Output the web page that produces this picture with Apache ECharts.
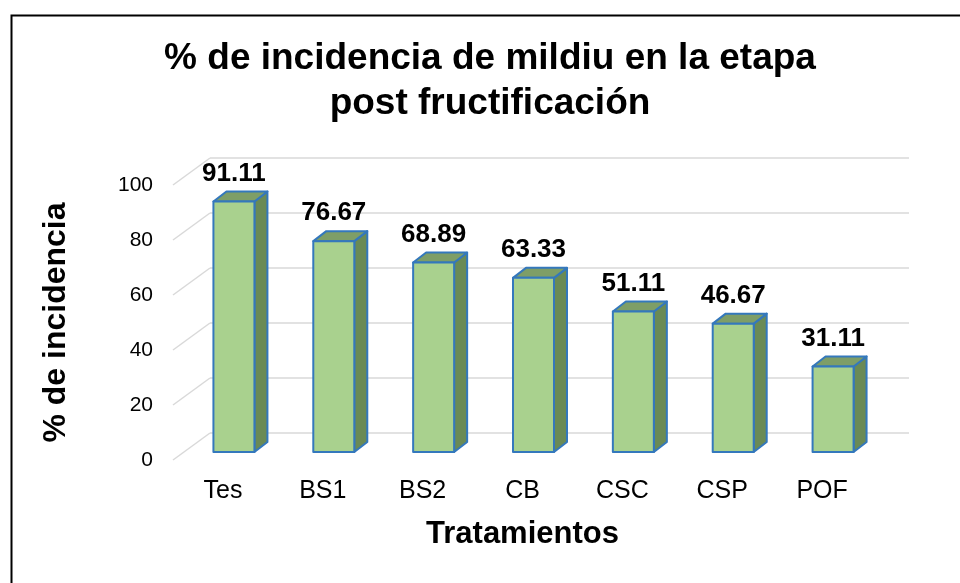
<!DOCTYPE html>
<html>
<head>
<meta charset="utf-8">
<script src="https://cdn.jsdelivr.net/npm/echarts@6/dist/echarts.min.js"></script>
<style>
html,body{margin:0;padding:0;background:#fff;}
#chart{width:960px;height:583px;}
</style>
</head>
<body>
<div id="chart"></div>
<script>
// ---- data ----
const categories = ['Tes', 'BS1', 'BS2', 'CB', 'CSC', 'CSP', 'POF'];
const incidence = [91.11, 76.67, 68.89, 63.33, 51.11, 46.67, 31.11];
const yTicks = [0, 20, 40, 60, 80, 100];
const titleText = '% de incidencia de mildiu en la etapa\npost fructificación';
const yName = '% de incidencia';
const xName = 'Tratamientos';

// ---- styling / 3D projection ----
const FONT = '"Liberation Sans", Arial, sans-serif';
const WALL_DX = 37, WALL_DY = -27;      // depth shift of back wall
const BAR_OX = 11, BAR_OY = -8;         // front face of bar within depth
const BAR_DX = 13, BAR_DY = -10;        // bar depth
const BAR_W = 41;
const EDGE = '#3478BC';
const FRONT = '#A9D18E', TOP = '#7E9E67', SIDE = '#6A8A55';

const chart = echarts.init(document.getElementById('chart'));

function barItem(params, api) {
  const i = api.value(0), v = api.value(1);
  const p0 = api.coord([i, 0]);
  const p1 = api.coord([i, v]);
  const cx = p0[0] + BAR_OX;
  const bottom = p0[1] + BAR_OY;
  const top = p1[1] + BAR_OY;
  const l = cx - BAR_W / 2, r = cx + BAR_W / 2;
  const sty = (fill) => ({ fill: fill, stroke: EDGE, lineWidth: 2, lineJoin: 'round' });
  return {
    type: 'group',
    children: [
      { type: 'polygon', shape: { points: [[r, top], [r + BAR_DX, top + BAR_DY], [r + BAR_DX, bottom + BAR_DY], [r, bottom]] }, style: sty(SIDE) },
      { type: 'polygon', shape: { points: [[l, top], [r, top], [r + BAR_DX, top + BAR_DY], [l + BAR_DX, top + BAR_DY]] }, style: sty(TOP) },
      { type: 'rect', shape: { x: l, y: top, width: BAR_W, height: bottom - top }, style: sty(FRONT) },
      { type: 'text', style: { text: v.toFixed(2), x: cx, y: top + BAR_DY - 5, textAlign: 'center', textVerticalAlign: 'bottom', align: 'center', verticalAlign: 'bottom', fill: '#000', font: 'bold 26px ' + FONT } }
    ]
  };
}

function diagItem(params, api) {
  const v = api.value(0);
  const p = api.coord([0, v]);
  const x0 = params.coordSys.x;
  return {
    type: 'line',
    shape: { x1: x0, y1: p[1], x2: x0 + WALL_DX, y2: p[1] + WALL_DY },
    style: { stroke: '#D9D9D9', lineWidth: 1.5 }
  };
}

const option = {
  backgroundColor: '#fff',
  animation: false,
  title: {
    text: titleText,
    left: 485, top: 31, textAlign: 'center',
    textStyle: { fontFamily: FONT, fontWeight: 'bold', fontSize: 37, lineHeight: 45, color: '#000' }
  },
  graphic: [
    { type: 'rect', left: 9, top: 13, shape: { width: 960, height: 600 }, style: { fill: 'none', stroke: '#000', lineWidth: 2 }, silent: true }
  ],
  grid: [
    { left: 173, right: 88, top: 185, bottom: 123 },                                     // front plane
    { left: 173 + WALL_DX, right: 88 - WALL_DX, top: 185 + WALL_DY, bottom: 123 - WALL_DY } // back wall
  ],
  xAxis: [
    {
      gridIndex: 0, type: 'category', data: categories,
      axisLine: { show: false }, axisTick: { show: false },
      axisLabel: { color: '#000', fontFamily: FONT, fontSize: 25, margin: 19 },
      name: xName, nameLocation: 'middle', nameGap: 59,
      nameTextStyle: { color: '#000', fontFamily: FONT, fontWeight: 'bold', fontSize: 31 }
    },
    { gridIndex: 1, type: 'category', data: categories, show: false }
  ],
  yAxis: [
    {
      gridIndex: 0, type: 'value', min: 0, max: 100, interval: 20,
      axisLine: { show: false }, axisTick: { show: false }, splitLine: { show: false },
      axisLabel: { color: '#000', fontFamily: FONT, fontSize: 21, margin: 20 },
      name: yName, nameLocation: 'middle', nameGap: 101, nameRotate: 90,
      nameTextStyle: { color: '#000', fontFamily: FONT, fontWeight: 'bold', fontSize: 32 }
    },
    {
      gridIndex: 1, type: 'value', min: 0, max: 100, interval: 20,
      axisLine: { show: false }, axisTick: { show: false }, axisLabel: { show: false },
      splitLine: { show: true, lineStyle: { color: '#D9D9D9', width: 1.5 } }
    }
  ],
  series: [
    {
      type: 'custom', xAxisIndex: 0, yAxisIndex: 0,
      renderItem: diagItem,
      data: yTicks.map(t => [t]),
      encode: { y: 0 }, z: 1, silent: true
    },
    {
      type: 'custom', xAxisIndex: 0, yAxisIndex: 0,
      renderItem: barItem,
      data: incidence.map((v, i) => [i, v]),
      encode: { x: 0, y: 1 }, z: 5, silent: true
    }
  ]
};
chart.setOption(option);
</script>
</body>
</html>
